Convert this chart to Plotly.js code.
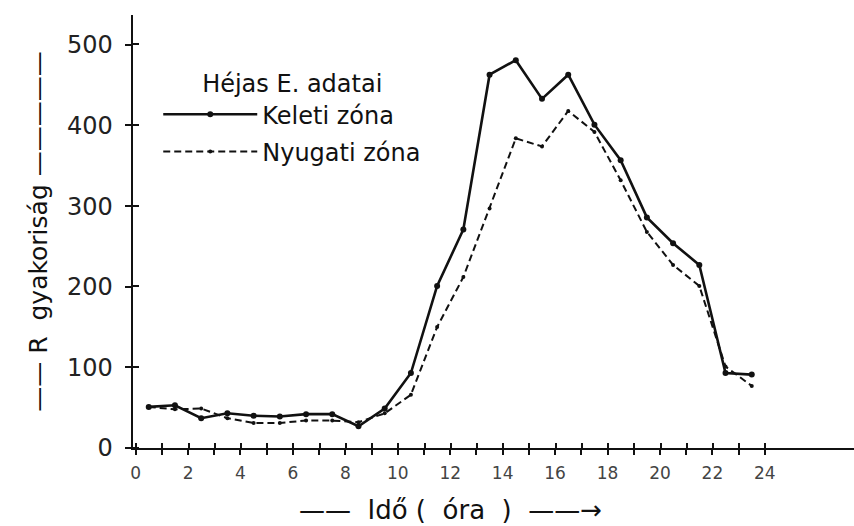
<!DOCTYPE html>
<html><head><meta charset="utf-8">
<script src="https://cdn.plot.ly/plotly-3.0.1.min.js"></script>
<style>html,body{margin:0;padding:0;background:#fff}#chart{width:854px;height:526px}</style>
</head><body><div id="chart"></div>
<script>
// Hours of day (mid-hour points)
const hours = [0.5,1.5,2.5,3.5,4.5,5.5,6.5,7.5,8.5,9.5,10.5,11.5,12.5,13.5,14.5,15.5,16.5,17.5,18.5,19.5,20.5,21.5,22.5,23.5];
// Keleti zóna (solid with dots)
const keleti = [51,53,37,43,40,39,42,42,27,49,93,201,271,463,481,433,463,401,357,286,254,227,93,91];
// Nyugati zóna (dashed)
const nyugati = [51,48,49,37,31,31,34,34,32,43,66,150,212,297,384,374,418,392,332,268,227,201,101,77];

const seriesNames = ['Keleti zóna', 'Nyugati zóna'];
const legendTitle = 'Héjas E. adatai';
const xTickVals = [0,1,2,3,4,5,6,7,8,9,10,11,12,13,14,15,16,17,18,19,20,21,22,23,24];
const xTickText = ['0','','2','','4','','6','','8','','10','','12','','14','','16','','18','','20','','22','','24'];
const yTickVals = [0,100,200,300,400,500];
const yTickText = ['0','100','200','300','400','500'];
const NB = '\u00a0';
const xTitle = '——' + NB + NB + 'Idő' + NB + '(' + NB + NB + 'óra' + NB + NB + ')' + NB + NB + '——→';
const yTitle = '——' + NB + 'R' + NB + NB + 'gyakoriság' + NB + '—————';

const FONT = 'DejaVu Sans, sans-serif';
const INK = '#111';

const traces = [
  {
    x: hours, y: keleti, name: seriesNames[0], type: 'scatter', mode: 'lines+markers',
    line: {color: INK, width: 2.6}, marker: {color: INK, size: 6}, legendgroup: 'a'
  },
  {
    x: hours, y: nyugati, name: seriesNames[1], type: 'scatter', mode: 'lines+markers',
    line: {color: INK, width: 2, dash: '7px,4px'}, marker: {color: INK, size: 4}, legendgroup: 'b'
  }
];

// inward half of the cross-shaped tick marks (minor ticks a hair off the major ones)
const xInner = xTickVals.map(v => v + 0.02);
const yInner = yTickVals.map(v => v + 0.5);

const layout = {
  width: 854, height: 526,
  margin: {l: 133, r: 0, t: 15, b: 78},
  paper_bgcolor: '#fff', plot_bgcolor: '#fff',
  font: {family: FONT, color: INK},
  showlegend: true,
  legend: {
    x: 0.035, y: 0.894, xanchor: 'left', yanchor: 'top',
    bgcolor: 'rgba(0,0,0,0)', borderwidth: 0,
    font: {family: FONT, size: 24, color: INK},
    title: {text: legendTitle, side: 'top center', font: {family: FONT, size: 24, color: INK}},
    itemwidth: 94, traceorder: 'grouped', tracegroupgap: 3
  },
  xaxis: {
    range: [-0.1, 27.4], tickmode: 'array', tickvals: xTickVals, ticktext: xTickText,
    ticks: 'outside', ticklen: 5, tickwidth: 2, tickcolor: INK,
    minor: {tickmode: 'array', tickvals: xInner, ticks: 'inside', ticklen: 5, tickwidth: 2, tickcolor: INK, showgrid: false},
    showline: true, linecolor: INK, linewidth: 2,
    showgrid: false, zeroline: false,
    tickfont: {family: FONT, size: 17, color: '#444'}, ticklabelstandoff: 4
  },
  yaxis: {
    range: [0, 537], tickmode: 'array', tickvals: yTickVals, ticktext: yTickText,
    ticks: 'outside', ticklen: 6, tickwidth: 2, tickcolor: INK,
    minor: {tickmode: 'array', tickvals: yInner, ticks: 'inside', ticklen: 6, tickwidth: 2, tickcolor: INK, showgrid: false},
    showline: true, linecolor: INK, linewidth: 2.5,
    showgrid: false, zeroline: false,
    tickfont: {family: FONT, size: 24, color: '#222'}, ticklabelstandoff: 7,
    title: {text: yTitle, font: {family: FONT, size: 25, color: INK}, standoff: 12}
  },
  annotations: [{
    text: xTitle, xref: 'paper', yref: 'paper', x: 0.44, y: -0.143,
    xanchor: 'center', yanchor: 'middle', showarrow: false,
    font: {family: FONT, size: 26, color: INK}
  }]
};

Plotly.newPlot('chart', traces, layout, {displayModeBar: false, staticPlot: true});
</script>
</body></html>
